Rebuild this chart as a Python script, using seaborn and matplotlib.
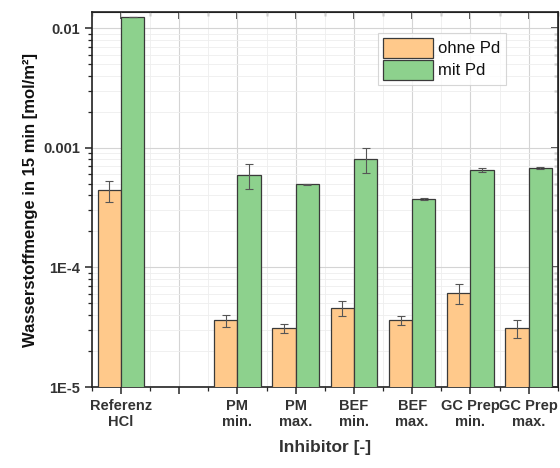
import numpy as np
import pandas as pd
import seaborn as sns
import matplotlib.pyplot as plt
from matplotlib.ticker import LogLocator, NullFormatter, MultipleLocator

# Daten
kategorien = ["Referenz\nHCl", "", "PM\nmin.", "PM\nmax.", "BEF\nmin.", "BEF\nmax.", "GC Prep\nmin.", "GC Prep\nmax."]
gemessen = ["Referenz\nHCl", "PM\nmin.", "PM\nmax.", "BEF\nmin.", "BEF\nmax.", "GC Prep\nmin.", "GC Prep\nmax."]
ohne_pd = [4.4e-4, 3.6e-5, 3.1e-5, 4.55e-5, 3.6e-5, 6.1e-5, 3.1e-5]
ohne_pd_err = [0.9e-4, 0.4e-5, 0.27e-5, 0.65e-5, 0.33e-5, 1.2e-5, 0.55e-5]
mit_pd = [1.23e-2, 5.9e-4, 4.95e-4, 8.0e-4, 3.72e-4, 6.5e-4, 6.75e-4]
mit_pd_err = [0.0, 1.35e-4, 0.05e-4, 1.9e-4, 0.05e-4, 0.25e-4, 0.1e-4]
serien = ["ohne Pd", "mit Pd"]
farben = {"ohne Pd": "#FFC98B", "mit Pd": "#8DD18D"}

df = pd.DataFrame({
    "Inhibitor": gemessen * 2,
    "Serie": [serien[0]] * len(gemessen) + [serien[1]] * len(gemessen),
    "Wert": ohne_pd + mit_pd,
    "Fehler": ohne_pd_err + mit_pd_err,
})

sns.set_style("ticks")
plt.rcParams['font.family'] = ['Liberation Sans', 'DejaVu Sans']

fig = plt.figure(figsize=(5.6, 4.68), dpi=100)
ax = fig.add_axes([0.164, 0.173, 0.832, 0.801])
ax.set_yscale("log")

sns.barplot(data=df, x="Inhibitor", y="Wert", hue="Serie", order=kategorien,
            hue_order=serien, palette=farben, saturation=1, errorbar=None, width=0.8,
            edgecolor="#3a3a3a", linewidth=0.9, ax=ax, zorder=3)

# Fehlerbalken
for j, s in enumerate(serien):
    sub = df[df["Serie"] == s]
    xs = [kategorien.index(k) + (j - 0.5) * 0.4 for k in sub["Inhibitor"]]
    ax.errorbar(xs, sub["Wert"], yerr=sub["Fehler"], fmt="none", ecolor="#555555",
                elinewidth=0.8, capsize=3, capthick=0.8, zorder=4)

ax.set_xlim(-0.5, len(kategorien) - 0.5)
ax.set_ylim(1e-5, 0.0136)
ax.set_yticks([1e-5, 1e-4, 1e-3, 1e-2], ["1E-5", "1E-4", "0.001", "0.01"])
ax.yaxis.set_minor_locator(LogLocator(base=10, subs=np.arange(2, 10)))
ax.yaxis.set_minor_formatter(NullFormatter())
ax.xaxis.set_minor_locator(MultipleLocator(0.5))

ax.grid(which="major", color="#d4d4d4", linewidth=0.8, zorder=0)
ax.grid(which="minor", color="#eeeeee", linewidth=0.6, zorder=0)
ax.set_axisbelow(True)

for sp in ax.spines.values():
    sp.set_visible(True)
    sp.set_linewidth(1.2)
    sp.set_color("#222222")

ax.tick_params(axis="both", which="major", direction="out", length=5, width=1.1,
               labelsize=10.5)
ax.tick_params(axis="both", which="minor", direction="out", length=3, width=0.9)
# gespiegelte Ticks oben und rechts nach innen
ax2 = ax.secondary_xaxis("top")
ax2.set_xticks(ax.get_xticks(), [""] * len(kategorien))
ax2.xaxis.set_minor_locator(MultipleLocator(0.5))
ax2.tick_params(which="major", direction="in", length=5, width=1.1)
ax2.tick_params(which="minor", direction="in", length=3, width=0.9)
ay2 = ax.secondary_yaxis("right")
ay2.set_yscale("log")
ay2.set_yticks([1e-5, 1e-4, 1e-3, 1e-2], ["", "", "", ""])
ay2.yaxis.set_minor_locator(LogLocator(base=10, subs=np.arange(2, 10)))
ay2.yaxis.set_minor_formatter(NullFormatter())
ay2.tick_params(which="major", direction="in", length=5, width=1.1)
ay2.tick_params(which="minor", direction="in", length=3, width=0.9)

for lab in ax.get_xticklabels() + ax.get_yticklabels():
    lab.set_fontweight("bold")
    lab.set_color("#333333")

ax.set_xlabel("Inhibitor [-]", fontsize=12.5, fontweight="bold", color="#333333", labelpad=8)
ax.set_ylabel("Wasserstoffmenge in 15 min [mol/m²]", fontsize=12, fontweight="bold",
              color="#111111", labelpad=4)

leg = ax.legend(loc="upper left", bbox_to_anchor=(0.615, 0.945), fontsize=12,
                frameon=True, fancybox=False, edgecolor="#cccccc", borderpad=0.3,
                handlelength=3.0, handleheight=1.5, labelspacing=0.1, handletextpad=0.3,
                borderaxespad=0)
leg.get_frame().set_linewidth(0.8)
for t in leg.get_texts():
    t.set_color("#111111")

fig.savefig("out.png", dpi=100)
